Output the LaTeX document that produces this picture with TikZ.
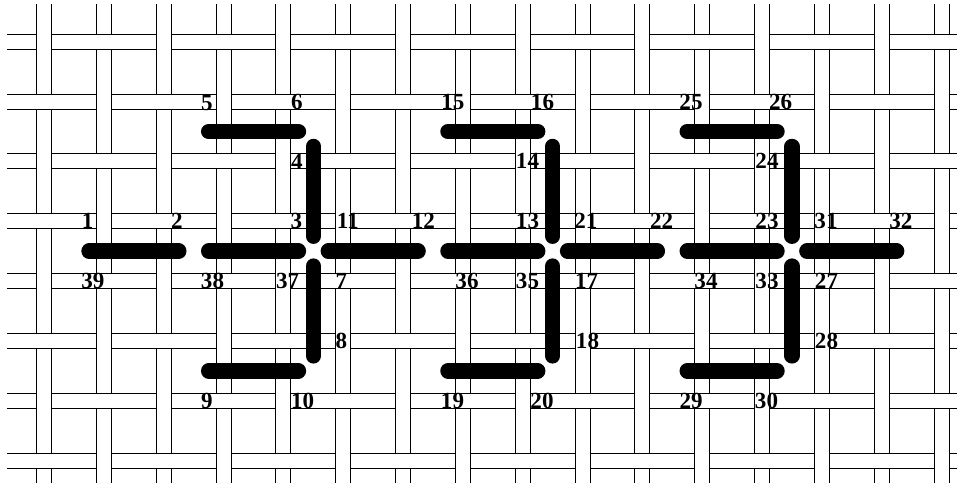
\documentclass[tikz,border=0pt]{standalone}
\usepackage{fontspec}
\setmainfont{Liberation Serif}
\begin{document}
\begin{tikzpicture}[x=0.75pt,y=-0.75pt,
  strip/.style={line width=0.75pt, draw=black},
  bar/.style={line width=11.6pt, line cap=round, draw=black},
  lab/.style={font=\fontsize{17.3}{18}\selectfont\bfseries, inner sep=0pt, anchor=center}]
\useasboundingbox (0,0) rectangle (957,485);
\fill[white] (0,0) rectangle (957,485);
\def\s{59.82}
% horizontal strips
\foreach \j in {0,...,7}{
  \pgfmathsetmacro\yy{41.8+\s*\j}
  \fill[white] (7,\yy-7.5) rectangle (957,\yy+7.5);
  \draw[strip] (7,\yy-7.5) -- (957,\yy-7.5) (7,\yy+7.5) -- (957,\yy+7.5);
}
% vertical strips
\foreach \i in {0,...,15}{
  \pgfmathsetmacro\xx{44.2+\s*\i}
  \fill[white] (\xx-7.5,4) rectangle (\xx+7.5,483);
  \draw[strip] (\xx-7.5,4) -- (\xx-7.5,483) (\xx+7.5,4) -- (\xx+7.5,483);
}
% crossings where the horizontal strip lies on top
\foreach \i in {0,...,15}{
  \foreach \j in {0,...,7}{
    \pgfmathtruncatemacro\odd{mod(\i+\j,2)}
    \ifnum\odd=1
      \pgfmathsetmacro\xx{44.2+\s*\i}
      \pgfmathsetmacro\yy{41.8+\s*\j}
      \fill[white] (\xx-8.3,\yy-7.1) rectangle (\xx+8.3,\yy+7.1);
      \draw[strip] (\xx-8.5,\yy-7.5) -- (\xx+8.5,\yy-7.5) (\xx-8.5,\yy+7.5) -- (\xx+8.5,\yy+7.5);
    \fi
  }
}
% bars of the figures
\foreach \k in {0,...,6}{
  \coordinate (ma\k) at ({44.2+\s*(0.75+2*\k)},{41.8+\s*3.5});
  \coordinate (mb\k) at ({44.2+\s*(2.25+2*\k)},{41.8+\s*3.5});
  \draw[bar] (ma\k) -- (mb\k);
}
\foreach \m in {0,1,2}{
  \coordinate (ta\m) at ({44.2+\s*(2.75+4*\m)},{41.8+\s*1.5});
  \coordinate (tb\m) at ({44.2+\s*(4.25+4*\m)},{41.8+\s*1.5});
  \coordinate (ba\m) at ({44.2+\s*(2.75+4*\m)},{41.8+\s*5.5});
  \coordinate (bb\m) at ({44.2+\s*(4.25+4*\m)},{41.8+\s*5.5});
  \coordinate (ua\m) at ({44.2+\s*(4.5+4*\m)},{41.8+\s*1.75});
  \coordinate (ub\m) at ({44.2+\s*(4.5+4*\m)},{41.8+\s*3.25});
  \coordinate (la\m) at ({44.2+\s*(4.5+4*\m)},{41.8+\s*3.75});
  \coordinate (lb\m) at ({44.2+\s*(4.5+4*\m)},{41.8+\s*5.25});
  \draw[bar] (ta\m) -- (tb\m);
  \draw[bar] (ba\m) -- (bb\m);
  \draw[bar] (ua\m) -- (ub\m);
  \draw[bar] (la\m) -- (lb\m);
}
% labels
\foreach \n/\x/\y in {1/87.7/221, 2/177/221, 3/296.5/221, 4/297/162, 5/207/103, 6/297/102,
  7/341.5/281, 8/341.5/341, 9/207/400.5, 10/302.7/400.5, 11/347.7/221, 12/423.3/221,
  13/527.5/221, 14/527.5/161, 15/452.8/102, 16/542.5/102, 17/586.7/281, 18/587.5/341,
  19/452.5/400.5, 20/542/400.5, 21/585.8/221, 22/661.7/221, 23/767/221, 24/767/161,
  25/691/102, 26/780.7/102, 27/826.5/281, 28/826.5/340.5, 29/691.2/400.5, 30/766.5/400.5,
  31/826/221, 32/900.8/221, 33/767/281, 34/706/281, 35/527.5/281, 36/467/281,
  37/287.7/281, 38/212.5/281, 39/92.8/281}{
  \node[lab] (l\n) at (\x,\y) {\n};
}
\end{tikzpicture}
\end{document}
